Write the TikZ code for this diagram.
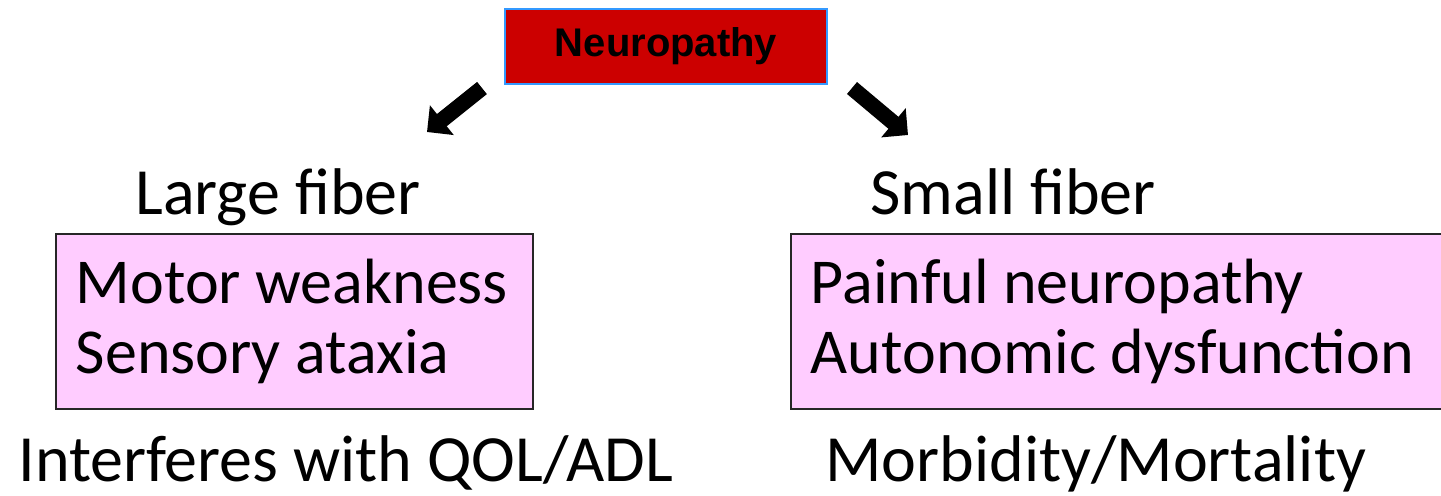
\documentclass[tikz,border=0pt]{standalone}
\usepackage{fontspec}
\setmainfont{Carlito}
\newfontfamily\arialfont{Liberation Sans}
\usetikzlibrary{arrows.meta}
\definecolor{neurored}{HTML}{CC0000}
\definecolor{neuroblue}{HTML}{3399FF}
\definecolor{boxpink}{HTML}{FFCCFF}
\begin{document}
\begin{tikzpicture}
  [x=0.5pt,y=-0.5pt,
   neurobox/.style={font=\arialfont\bfseries\fontsize{20}{24}\selectfont,fill=neurored,draw=neuroblue,line width=1pt,minimum width=161pt,minimum height=37.5pt,inner sep=0pt},
   heading/.style={font=\fontsize{33}{35}\selectfont,anchor=base west,inner sep=0pt},
   fiberbox/.style={font=\fontsize{32}{35}\selectfont,fill=boxpink,draw=black!85,line width=0.8pt,align=flush left,anchor=north west,inner xsep=10pt,inner ysep=0pt,minimum height=87.5pt},
   fatarrow/.style={line width=7.8pt,-{Triangle[length=9.5pt,width=18.5pt]}}]
  \useasboundingbox (0,0) rectangle (1441,495);
  \node[neurobox] (neuro) at (666,46.5) {Neuropathy};

  \node[heading] (large) at (135,214) {Large fiber};
  \node[heading] (small) at (870,214) {Small fiber};

  \node[fiberbox,text width=218.5pt] (lbox) at (55,233) {Motor weakness\\Sensory ataxia};
  \node[fiberbox,text width=310pt] (rbox) at (790,233) {Painful neuropathy\\Autonomic dysfunction};

  \node[heading] (qol) at (18,481) {Interferes with QOL/ADL};
  \node[heading] (mort) at (825,481) {Morbidity/Mortality};

  \coordinate (ltail) at (482,88);
  \coordinate (ltip) at (427,132);
  \coordinate (rtail) at (852,88);
  \coordinate (rtip) at (908,135);

  \foreach \from/\to in {ltail/ltip,rtail/rtip}
    \draw[fatarrow] (\from) -- (\to);
\end{tikzpicture}
\end{document}
